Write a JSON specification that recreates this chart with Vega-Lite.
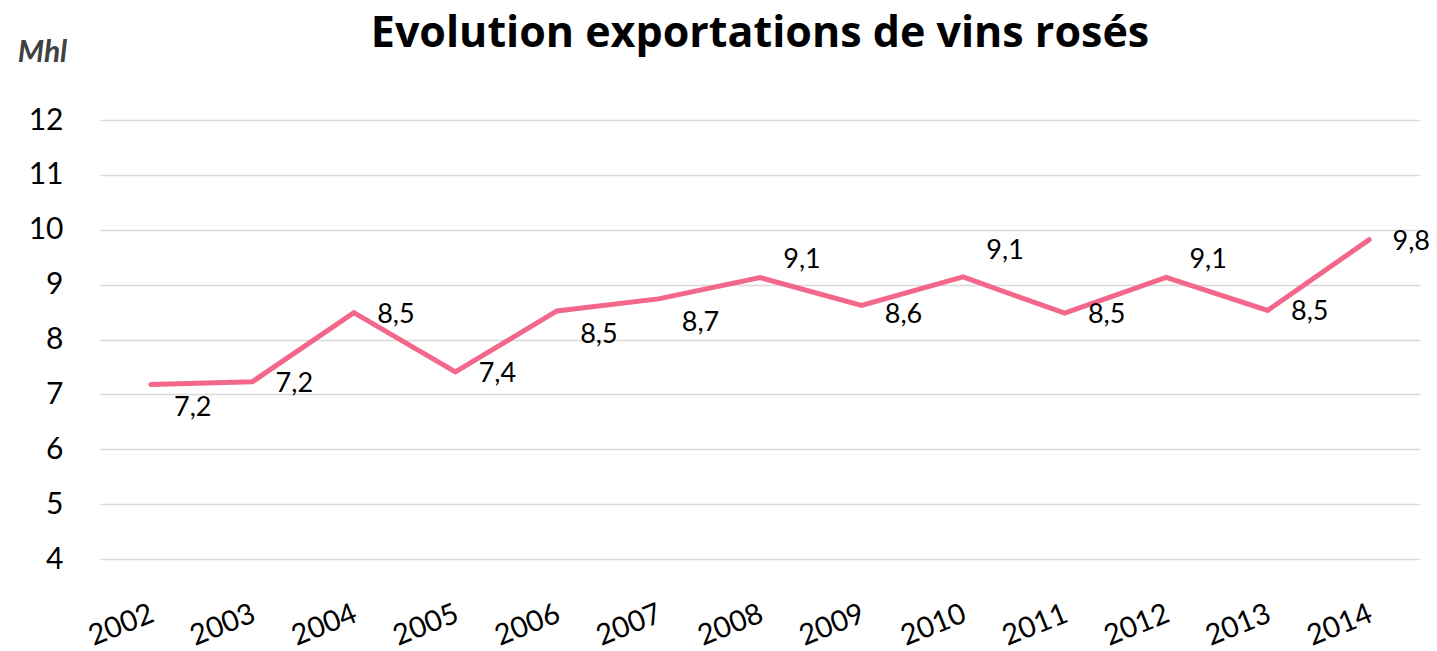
{
  "$schema": "https://vega.github.io/schema/vega-lite/v6.json",
  "autosize": "none",
  "width": 1320,
  "height": 439,
  "padding": {"left": 100, "top": 120, "right": 17, "bottom": 92},
  "background": "white",
  "config": {
    "locale": {"number": {"decimal": ",", "thousands": " ", "grouping": [3], "currency": ["", " €"]}},
    "view": {"stroke": null},
    "font": "Lato"
  },
  "title": {
    "text": "Evolution exportations de vins rosés",
    "font": "Open Sans",
    "fontWeight": "bold",
    "fontSize": 43,
    "color": "black",
    "anchor": "middle",
    "offset": -19
  },
  "data": {
    "values": [
      {"year": "2002", "value": 7.18},
      {"year": "2003", "value": 7.23},
      {"year": "2004", "value": 8.49},
      {"year": "2005", "value": 7.41},
      {"year": "2006", "value": 8.52},
      {"year": "2007", "value": 8.74},
      {"year": "2008", "value": 9.13},
      {"year": "2009", "value": 8.62},
      {"year": "2010", "value": 9.14},
      {"year": "2011", "value": 8.48},
      {"year": "2012", "value": 9.13},
      {"year": "2013", "value": 8.53},
      {"year": "2014", "value": 9.82}
    ]
  },
  "encoding": {
    "x": {
      "field": "year",
      "type": "ordinal",
      "scale": {"type": "point", "padding": 0.5},
      "axis": {
        "title": null,
        "domain": false,
        "ticks": false,
        "labelAngle": -22,
        "labelAlign": "right",
        "labelBaseline": "top",
        "labelPadding": 40,
        "labelOffset": -4,
        "labelFontSize": 29,
        "labelFont": "Lato",
        "labelColor": "black"
      }
    },
    "y": {
      "field": "value",
      "type": "quantitative",
      "scale": {"domain": [4, 12], "nice": false, "zero": false},
      "axis": {
        "values": [4, 5, 6, 7, 8, 9, 10, 11, 12],
        "title": "Mhl",
        "titleAngle": 0,
        "titleX": -58,
        "titleY": -68,
        "titleAlign": "center",
        "titleBaseline": "middle",
        "titleFont": "Lato",
        "titleFontStyle": "italic",
        "titleFontWeight": "bold",
        "titleFontSize": 30,
        "titleColor": "#404040",
        "domain": false,
        "ticks": false,
        "grid": true,
        "gridColor": "#D9D9D9",
        "gridWidth": 1.5,
        "labelPadding": 37,
        "labelFontSize": 30,
        "labelFont": "Lato",
        "labelColor": "black"
      }
    }
  },
  "layer": [
    {
      "mark": {"type": "line", "color": "#F2678A", "strokeWidth": 5, "strokeCap": "round", "strokeJoin": "miter"}
    },
    {
      "transform": [{"filter": {"field": "year", "oneOf": ["2003", "2004", "2005", "2011", "2013", "2014"]}}],
      "mark": {"type": "text", "dx": 42, "dy": 2, "fontSize": 27, "font": "Lato", "color": "black", "align": "center", "baseline": "middle"},
      "encoding": {"text": {"field": "value", "type": "quantitative", "format": ".1f"}}
    },
    {
      "transform": [{"filter": {"field": "year", "oneOf": ["2002", "2006", "2007"]}}],
      "mark": {"type": "text", "dx": 42, "dy": 24, "fontSize": 27, "font": "Lato", "color": "black", "align": "center", "baseline": "middle"},
      "encoding": {"text": {"field": "value", "type": "quantitative", "format": ".1f"}}
    },
    {
      "transform": [{"filter": {"field": "year", "oneOf": ["2009"]}}],
      "mark": {"type": "text", "dx": 42, "dy": 10, "fontSize": 27, "font": "Lato", "color": "black", "align": "center", "baseline": "middle"},
      "encoding": {"text": {"field": "value", "type": "quantitative", "format": ".1f"}}
    },
    {
      "transform": [{"filter": {"field": "year", "oneOf": ["2008", "2012"]}}],
      "mark": {"type": "text", "dx": 42, "dy": -17, "fontSize": 27, "font": "Lato", "color": "black", "align": "center", "baseline": "middle"},
      "encoding": {"text": {"field": "value", "type": "quantitative", "format": ".1f"}}
    },
    {
      "transform": [{"filter": {"field": "year", "oneOf": ["2010"]}}],
      "mark": {"type": "text", "dx": 42, "dy": -26, "fontSize": 27, "font": "Lato", "color": "black", "align": "center", "baseline": "middle"},
      "encoding": {"text": {"field": "value", "type": "quantitative", "format": ".1f"}}
    }
  ]
}
